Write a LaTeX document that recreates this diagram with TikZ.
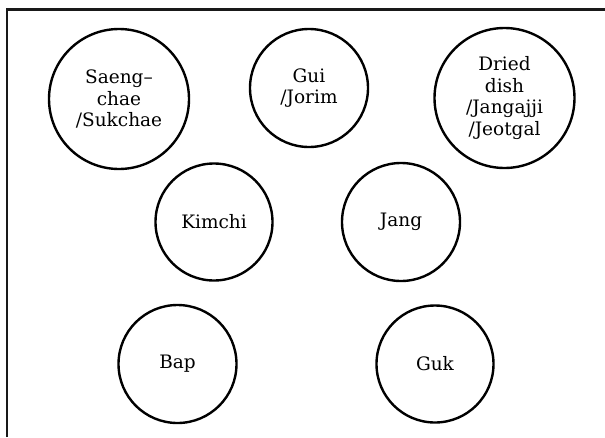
\documentclass[tikz,border=0pt]{standalone}
\usepackage{fontspec}
\setmainfont{DejaVu Serif}
\usetikzlibrary{positioning}

\begin{document}
\begin{tikzpicture}[
        x=1pt, y=-1pt,
        dishnode/.style={circle, draw=black, line width=2.4pt, fill=white, align=center, inner sep=0pt, font=\fontsize{18.5}{21.7}\selectfont},
        frameline/.style={draw=black!90, line width=2.2pt}
    ]
        \useasboundingbox (0,0) rectangle (605,437);
        % Frame
        \draw[frameline] (7,437) -- (7,9.5) -- (605,9.5);
        % Dishes
        \node[dishnode, minimum size=140pt] (saengchae) at (119, 99) {Saeng--\\chae\\/Sukchae};
        \node[dishnode, minimum size=118pt] (gui) at (309, 88) {Gui\\/Jorim};
        \node[dishnode, minimum size=140pt] (dried) at (504.5, 98) {Dried\\dish\\/Jangajji\\/Jeotgal};
        \node[dishnode, minimum size=117pt] (kimchi) at (214, 222) {Kimchi};
        \node[dishnode, minimum size=118pt] (jang) at (401, 222) {Jang};
        \node[dishnode, minimum size=118pt] (bap) at (177.5, 364) {Bap};
        \node[dishnode, minimum size=117pt] (guk) at (435, 364) {Guk};
    \end{tikzpicture}
\end{document}
